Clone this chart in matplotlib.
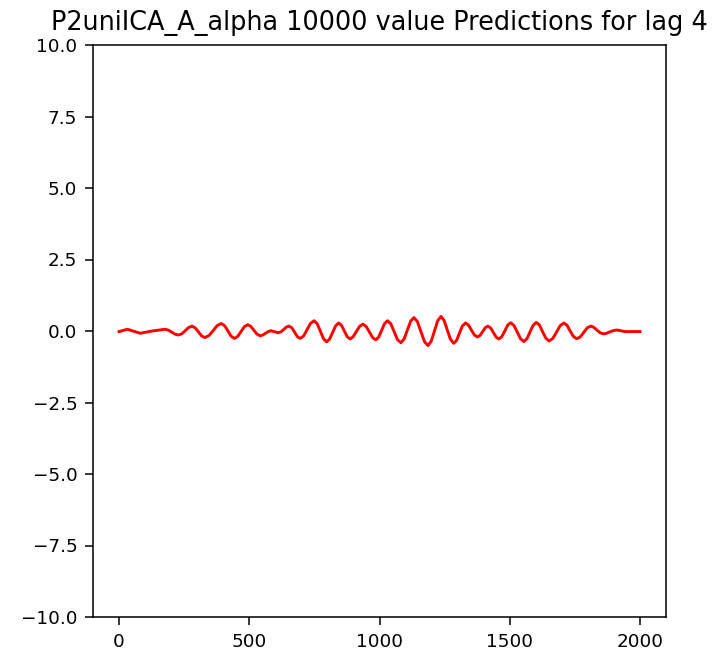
import matplotlib
matplotlib.use("Agg")
import matplotlib.pyplot as plt
from matplotlib.ticker import MultipleLocator

# Values: sample index -> predicted value
x_vals = [0, 16, 32, 57, 82, 104, 127, 152, 177, 189.5, 202, 215, 228, 241, 254, 267,
          280, 292.5, 305, 317, 329, 345, 361, 377, 393, 405.5, 418, 430.5, 443, 455.5,
          468, 481, 494, 506, 518, 530, 542, 552, 562, 572.5, 583, 597, 611, 621.5,
          632, 642.5, 653, 663.5, 674, 685, 696, 709, 722, 735.5, 749, 761, 773, 785,
          797, 808.5, 820, 831.5, 843, 854, 865, 876, 887, 899, 911, 923.5, 936, 948.5,
          961, 973.5, 986, 997, 1008, 1019.5, 1031, 1043.5, 1056, 1069, 1082, 1094.5,
          1107, 1119.5, 1132, 1145.5, 1159, 1172.5, 1186, 1198.5, 1211, 1223.5, 1236,
          1248, 1260, 1272.5, 1285, 1296, 1307, 1318.5, 1330, 1341.5, 1353, 1364.5,
          1376, 1386, 1396, 1406, 1416, 1426.5, 1437, 1447.5, 1458, 1469.5, 1481,
          1492.5, 1504, 1516.5, 1529, 1541.5, 1554, 1566, 1578, 1590, 1602, 1614, 1626,
          1638.5, 1651, 1665.5, 1680, 1694, 1708, 1720, 1732, 1744.5, 1757, 1770.5,
          1784, 1797.5, 1811, 1823, 1835, 1847, 1859, 1872, 1885, 1898.5, 1912, 1927,
          1943, 1970, 2000]
y_vals = [-0.02, 0.02, 0.06, -0.01, -0.08, -0.04, 0.0, 0.03, 0.06, 0.03, -0.04, -0.11,
          -0.14, -0.10, 0.01, 0.12,
          0.17, 0.11, -0.03, -0.17, -0.23, -0.16, 0.01, 0.19, 0.26, 0.185, 0.0, -0.185,
          -0.26, -0.19,
          -0.02, 0.15, 0.22, 0.16, 0.02, -0.11, -0.17, -0.14, -0.08, -0.02, 0.01, -0.025,
          -0.06, -0.03,
          0.05, 0.14, 0.17, 0.11, -0.04, -0.20, -0.26, -0.17, 0.05, 0.27, 0.36, 0.25,
          -0.01, -0.27,
          -0.38, -0.28, -0.05, 0.18, 0.28, 0.20, 0.0, -0.20, -0.28, -0.20, -0.02, 0.16,
          0.24, 0.16,
          -0.03, -0.23, -0.31, -0.21, 0.02, 0.26, 0.36, 0.25, -0.02, -0.30, -0.41, -0.28,
          0.03, 0.34, 0.47, 0.33, -0.02, -0.37, -0.51, -0.36, 0.0, 0.36, 0.51,
          0.37, 0.04, -0.29, -0.43, -0.33, -0.07, 0.18, 0.28, 0.21, 0.03, -0.14,
          -0.21, -0.155, -0.02, 0.115, 0.17, 0.11, -0.05, -0.21, -0.28, -0.20, 0.0,
          0.21, 0.29, 0.19, -0.04, -0.27, -0.37, -0.27, -0.03, 0.20, 0.30, 0.21, -0.02,
          -0.25, -0.35, -0.26, -0.03, 0.19, 0.28, 0.20, 0.0, -0.19, -0.27, -0.21,
          -0.05, 0.11, 0.17, 0.13, 0.03, -0.06, -0.10, -0.08, -0.03, 0.016, 0.035, 0.01,
          -0.02, -0.02, -0.02]

title = "P2uniICA_A_alpha 10000 value Predictions for lag 4"
y_limits = (-10, 10)
x_tick_step = 500

dpi = 100
fig = plt.figure(figsize=(715 / dpi, 657 / dpi), dpi=dpi)
ax = fig.add_axes([93 / 715, 1 - 617 / 657, 573 / 715, 572 / 657])
ax.plot(x_vals, y_vals, color="red", linewidth=2.1)
ax.set_ylim(*y_limits)
ax.xaxis.set_major_locator(MultipleLocator(x_tick_step))
ax.tick_params(labelsize=13.2, length=5.8, width=1.1, pad=5.5)
for s in ax.spines.values():
    s.set_linewidth(1.1)
ax.set_title(title, fontsize=18.4, pad=10.5)
fig.savefig("out.png", dpi=dpi)
